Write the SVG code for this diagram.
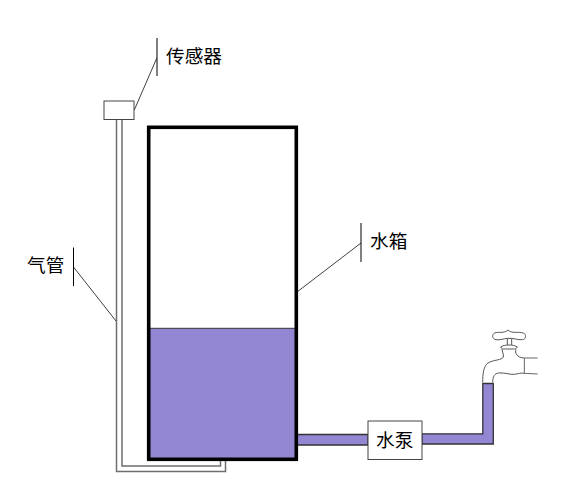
<svg xmlns="http://www.w3.org/2000/svg" width="564" height="493" viewBox="0 0 564 493">
<style>
.t{font-family:"Liberation Sans","Noto Sans CJK SC",sans-serif;font-size:18.670px;fill:#000}
.l{fill:none;stroke:#404040;stroke-width:1}
.v{fill:none;stroke:#000;stroke-width:1}
.tube{fill:none;stroke:#6e6e6e;stroke-width:1.5}
.water{fill:#9387d4;stroke:#333;stroke-width:1.300}
</style>
<rect width="564" height="493" fill="#fff"/>
<g id="connectors">
<path class="tube" d="M116.500 119V471.500H225.500V459"/>
<path class="tube" d="M122 119V466H220.500V459"/>
<path class="water" d="M297 434.500H368V445H297Z"/>
<path class="water" d="M422 433.800H482.800V383.500H493.300V444H422Z"/>
<path class="l" d="M156.700 58.300L134.300 110"/>
<path class="l" d="M73.500 267L116 321"/>
<path class="l" d="M361 243L297 292"/>
</g>
<g id="tank">
<rect x="149" y="328.300" width="147" height="130" fill="#9387d4"/>
<path d="M149 328.300H296" stroke="#333" stroke-width="1" fill="none"/>
<rect x="148.700" y="127.300" width="147.600" height="332" fill="none" stroke="#000" stroke-width="3.600"/>
</g>
<g id="sensor">
<rect x="104" y="101" width="30" height="18.500" fill="#fff" stroke="#444" stroke-width="1"/>
</g>
<g id="pump">
<rect x="368" y="421" width="54" height="38.500" fill="#fff" stroke="#444" stroke-width="1"/>
<text class="t" x="376" y="447">水泵</text>
</g>
<g id="faucet" transform="translate(480 325) scale(.3333)" fill="none" stroke="#555" stroke-width="3">
<path d="M44 24C55 19 70 27 84 15C95 27 115 19 130 24C140 28 138 43 128 44C112 46 100 38 84 40C70 41 60 46 48 44C36 42 35 28 44 24Z"/>
<path d="M82 41V60M95 41V60"/>
<path d="M62 66C72 58 102 58 112 66C108 72 105 72 100 72H74C68 72 65 72 62 66Z"/>
<path d="M66 72C66 80 72 88 70 96C66 106 40 104 24 114C10 124 8 150 8 172"/>
<path d="M108 72C104 84 110 98 133 99"/>
<path d="M38 172C38 155 44 145 56 144C75 142 90 150 104 148C115 146 122 143 133 145"/>
<path d="M133 99V145M133 99H173M133 145L173 147" stroke="#666"/>
</g>
<g id="label-sensor">
<path class="v" d="M157 38V76"/>
<text class="t" x="166" y="63">传感器</text>
</g>
<g id="label-pipe">
<path class="v" d="M73.500 247.500V286"/>
<text class="t" x="27" y="272">气管</text>
</g>
<g id="label-tank">
<path class="v" d="M361 223V262"/>
<text class="t" x="370" y="248">水箱</text>
</g>
</svg>
